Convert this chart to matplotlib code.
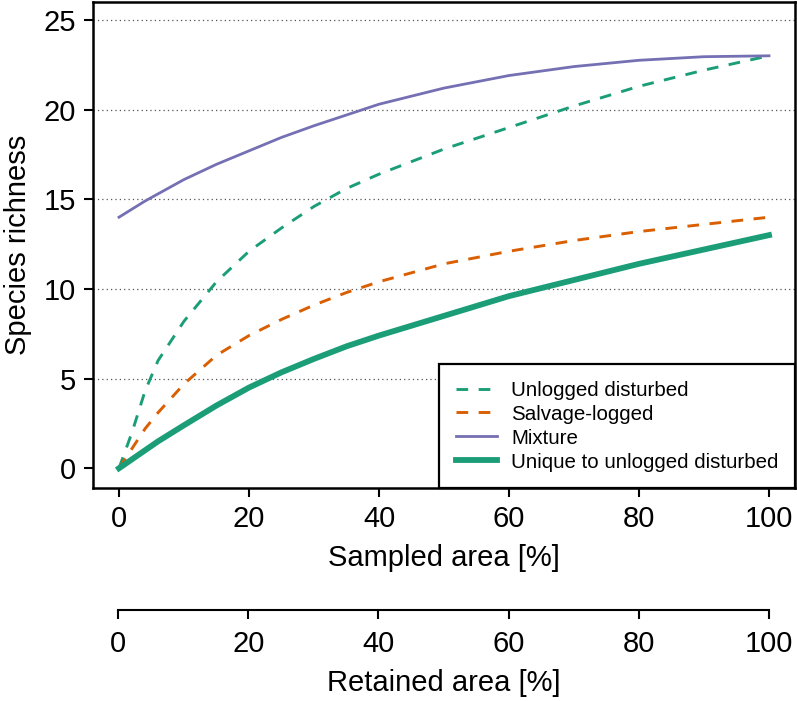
import matplotlib
matplotlib.use("Agg")
import matplotlib.pyplot as plt

plt.rcParams["font.family"] = ["Liberation Sans", "DejaVu Sans"]

# 取樣面積百分比
area = [0, 2, 4, 6, 10, 15, 20, 25, 30, 35, 40, 50, 60, 70, 80, 90, 100]

unlogged = [0, 2.0, 4.3, 6.0, 8.2, 10.4, 12.1, 13.4, 14.6, 15.6, 16.4,
            17.8, 19.0, 20.2, 21.3, 22.2, 23.0]
salvage = [0, 1.1, 2.2, 3.1, 4.7, 6.3, 7.4, 8.3, 9.1, 9.8, 10.4,
           11.4, 12.1, 12.7, 13.2, 13.6, 14.0]
mixture = [14.0, 14.45, 14.9, 15.3, 16.1, 16.95, 17.7, 18.45, 19.1, 19.7, 20.3,
           21.2, 21.9, 22.4, 22.75, 22.95, 23.0]
unique = [0, 0.5, 1.0, 1.5, 2.4, 3.5, 4.5, 5.35, 6.1, 6.8, 7.4,
          8.5, 9.6, 10.5, 11.4, 12.2, 13.0]

x_ticks = [0, 20, 40, 60, 80, 100]
y_ticks = [0, 5, 10, 15, 20, 25]

GREEN = "#1B9E77"
ORANGE = "#D95F02"
PURPLE = "#7570B3"
FS = 21


def plot_main(fig):
    ax = fig.add_axes([93 / 797, 1 - 488 / 701, 702 / 797, 486 / 701])

    for y in y_ticks[1:]:
        ax.axhline(y, color="#555555", lw=0.9, ls=(0, (1, 2.5)), zorder=0)

    dash = (0, (4, 3.6))
    ax.plot(area, unlogged, color=GREEN, lw=2.1, ls=dash,
            label="Unlogged disturbed")
    ax.plot(area, salvage, color=ORANGE, lw=2.1, ls=dash,
            label="Salvage-logged")
    ax.plot(area, mixture, color=PURPLE, lw=2, label="Mixture")
    ax.plot(area, unique, color=GREEN, lw=4.2,
            label="Unique to unlogged disturbed")

    ax.set_xlim(-4, 104)
    ax.set_ylim(-1.1, 26)
    ax.set_xticks(x_ticks)
    ax.set_yticks(y_ticks)
    ax.tick_params(labelsize=FS, width=1.5, length=6.5, pad=6)
    for s in ax.spines.values():
        s.set_linewidth(1.8)

    ax.set_xlabel("Sampled area [%]", fontsize=FS, labelpad=8)
    ax.set_ylabel("Species richness", fontsize=FS, labelpad=8)

    leg = ax.legend(loc="lower right", fontsize=14.8, frameon=True,
                    fancybox=False, borderaxespad=0, handlelength=2.0,
                    handletextpad=0.7, labelspacing=0.24, borderpad=0.8,
                    framealpha=1)
    leg.get_frame().set_edgecolor("black")
    leg.get_frame().set_linewidth(1.6)
    return ax


def plot_second(fig):
    ax2 = fig.add_axes([118 / 797, 1 - 610 / 701, 651 / 797, 0.001])
    ax2.set_xlim(0, 100)
    ax2.set_yticks([])
    for side in ["top", "left", "right"]:
        ax2.spines[side].set_visible(False)
    ax2.spines["bottom"].set_linewidth(1.5)
    ax2.set_xticks(x_ticks)
    ax2.tick_params(labelsize=FS, width=1.5, length=6.5, pad=8)
    ax2.set_xlabel("Retained area [%]", fontsize=FS, labelpad=8)
    ax2.patch.set_visible(False)


def main():
    fig = plt.figure(figsize=(7.97, 7.01), dpi=100)
    plot_main(fig)
    plot_second(fig)
    fig.savefig("out.png", dpi=100)
    plt.close(fig)


if __name__ == "__main__":
    main()
